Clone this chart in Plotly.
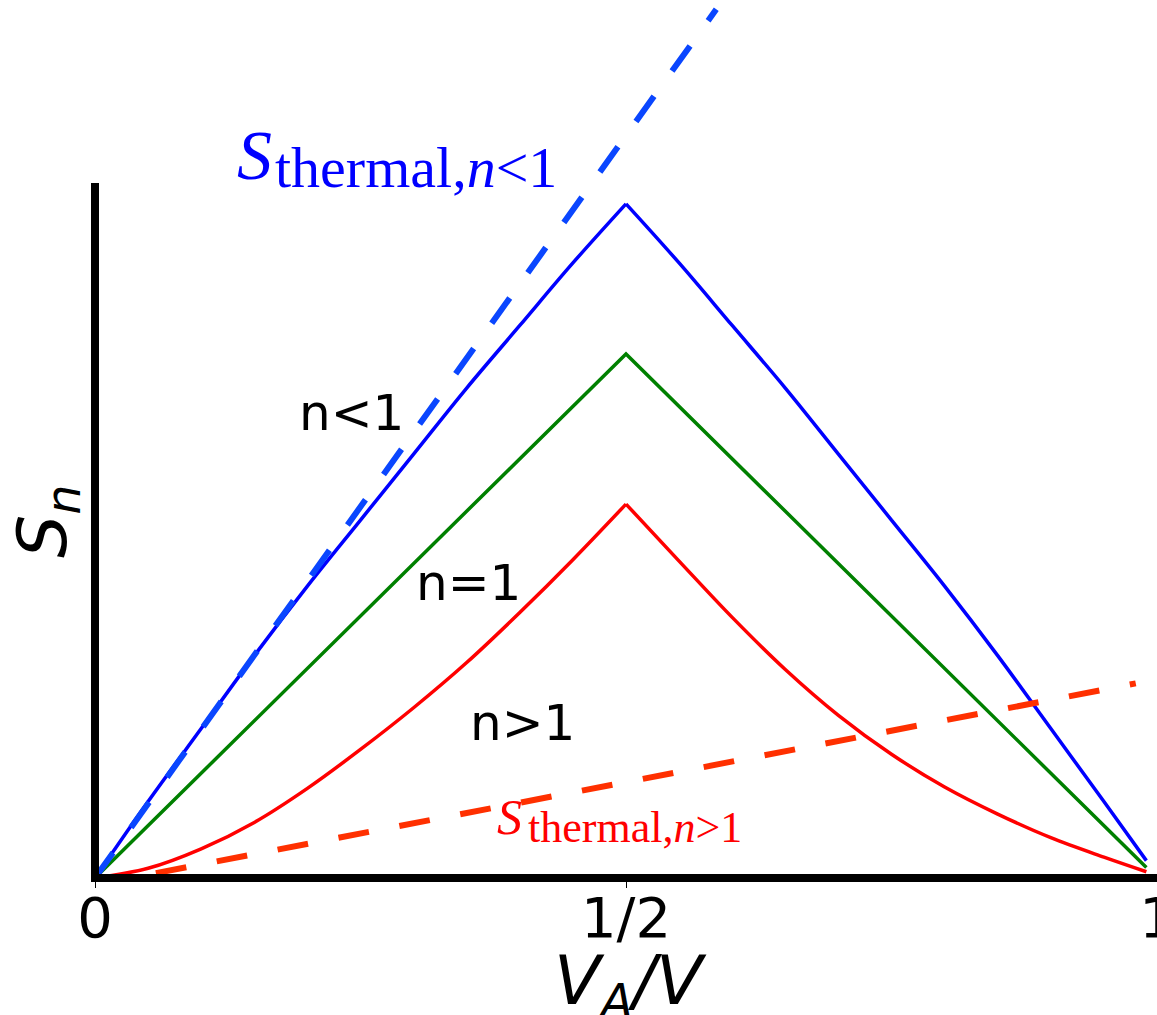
import plotly.graph_objects as go

# ---- data ----
x_grid = [0, 0.05, 0.10, 0.15, 0.20, 0.25, 0.30, 0.35, 0.40, 0.45, 0.50,
          0.55, 0.60, 0.65, 0.70, 0.75, 0.80, 0.85, 0.90, 0.95, 0.99]
s_n_less = [0, 0.11, 0.215, 0.32, 0.42, 0.515, 0.61, 0.705, 0.795, 0.885, 0.97,
            0.885, 0.795, 0.705, 0.61, 0.515, 0.42, 0.32, 0.215, 0.11, 0.025]
s_n_greater = [0, 0.014, 0.042, 0.080, 0.129, 0.185, 0.245, 0.310, 0.382, 0.458, 0.538,
               0.456, 0.375, 0.300, 0.234, 0.178, 0.131, 0.092, 0.058, 0.030, 0.009]
x_n_one = [0, 0.5, 0.99]
s_n_one = [0, 0.754, 0.015]
thermal_lo_x = [0, 0.585]
thermal_lo_y = [0, 1.25]
thermal_hi_x = [0, 0.98]
thermal_hi_y = [-0.01, 0.28]
tick_vals = [0, 0.5, 1]
tick_text = ["0", "1/2", "1"]

W, H = 1157, 1015
L, B = 95, 137
PW, PH = W - L, H - B          # plot area 1062 x 878
Y_UNIT = 695                    # px per data unit on y (top of y spine = 1)
PEAK = x_grid.index(0.5)


def px(xp):
    return (xp - L) / PW


def py(yp):
    return (H - B - yp) / PH


fig = go.Figure()


def curve(xs, ys, color):
    # draw each side of the peak as its own smooth branch so the cusp stays sharp
    for sl in (slice(0, PEAK + 1), slice(PEAK, None)):
        fig.add_trace(go.Scatter(x=xs[sl], y=ys[sl], mode="lines",
                                 line=dict(color=color, width=3.5, shape="spline", smoothing=1),
                                 showlegend=False, hoverinfo="skip"))


curve(x_grid, s_n_less, "#0000ff")
fig.add_trace(go.Scatter(x=x_n_one, y=s_n_one, mode="lines",
                         line=dict(color="#008000", width=3.5), showlegend=False))
curve(x_grid, s_n_greater, "#ff0000")
fig.add_trace(go.Scatter(x=thermal_lo_x, y=thermal_lo_y, mode="lines",
                         line=dict(color="#0a46ff", width=6, dash="31px,31px"), showlegend=False))
fig.add_trace(go.Scatter(x=thermal_hi_x, y=thermal_hi_y, mode="lines",
                         line=dict(color="#ff3000", width=6, dash="31px,31px"), showlegend=False))

# axis spines
fig.add_shape(type="line", xref="paper", yref="paper", x0=px(91), x1=1.02, y0=0, y1=0,
              line=dict(color="black", width=8), layer="above")
fig.add_shape(type="line", xref="paper", yref="paper", x0=0, x1=0, y0=py(882), y1=py(183),
              line=dict(color="black", width=8), layer="above")

ann = []


def label(text, xp, yp, size, color="black", family="DejaVu Sans", xanchor="center",
          yanchor="middle", angle=0):
    ann.append(dict(text=text, x=px(xp), y=py(yp), xref="paper", yref="paper",
                    showarrow=False, xanchor=xanchor, yanchor=yanchor, textangle=angle,
                    font=dict(size=size, color=color, family=family)))


label("n&lt;1", 351, 413, 50)
label("n=1", 468, 583, 50)
label("n&gt;1", 522, 723, 50)

label("<i>S</i>", 235, 196, 70, "#0000ff", "Liberation Serif", "left", "bottom")
label("thermal,<i>n</i>&lt;1", 273, 201.5, 58, "#0000ff", "Liberation Serif", "left", "bottom")
label("<i>S</i>", 495, 847, 50, "#ff0000", "Liberation Serif", "left", "bottom")
label("thermal,<i>n</i>&gt;1", 526, 853.5, 44, "#ff0000", "Liberation Serif", "left", "bottom")

label("<i>S</i><sub><i>n</i></sub>", 47, 522, 68, angle=-90)
label("<i>V</i><sub><i>A</i></sub><i>/V</i>", 630, 939, 68, yanchor="top")

fig.update_layout(
    width=W, height=H,
    margin=dict(l=L, r=0, t=0, b=B, autoexpand=False),
    paper_bgcolor="white", plot_bgcolor="white",
    annotations=ann,
    xaxis=dict(range=[0, 1], showgrid=False, zeroline=False, showline=False,
               automargin=False,
               tickvals=tick_vals, ticktext=tick_text, ticks="outside", ticklen=9,
               tickwidth=1, tickcolor="black", ticklabelstandoff=-18,
               ticklabeloverflow="allow",
               tickfont=dict(family="DejaVu Sans", size=56, color="black")),
    yaxis=dict(range=[0, PH / Y_UNIT], showgrid=False, zeroline=False, showline=False,
               automargin=False, showticklabels=False, ticks=""),
)

fig.write_html("out.html")
